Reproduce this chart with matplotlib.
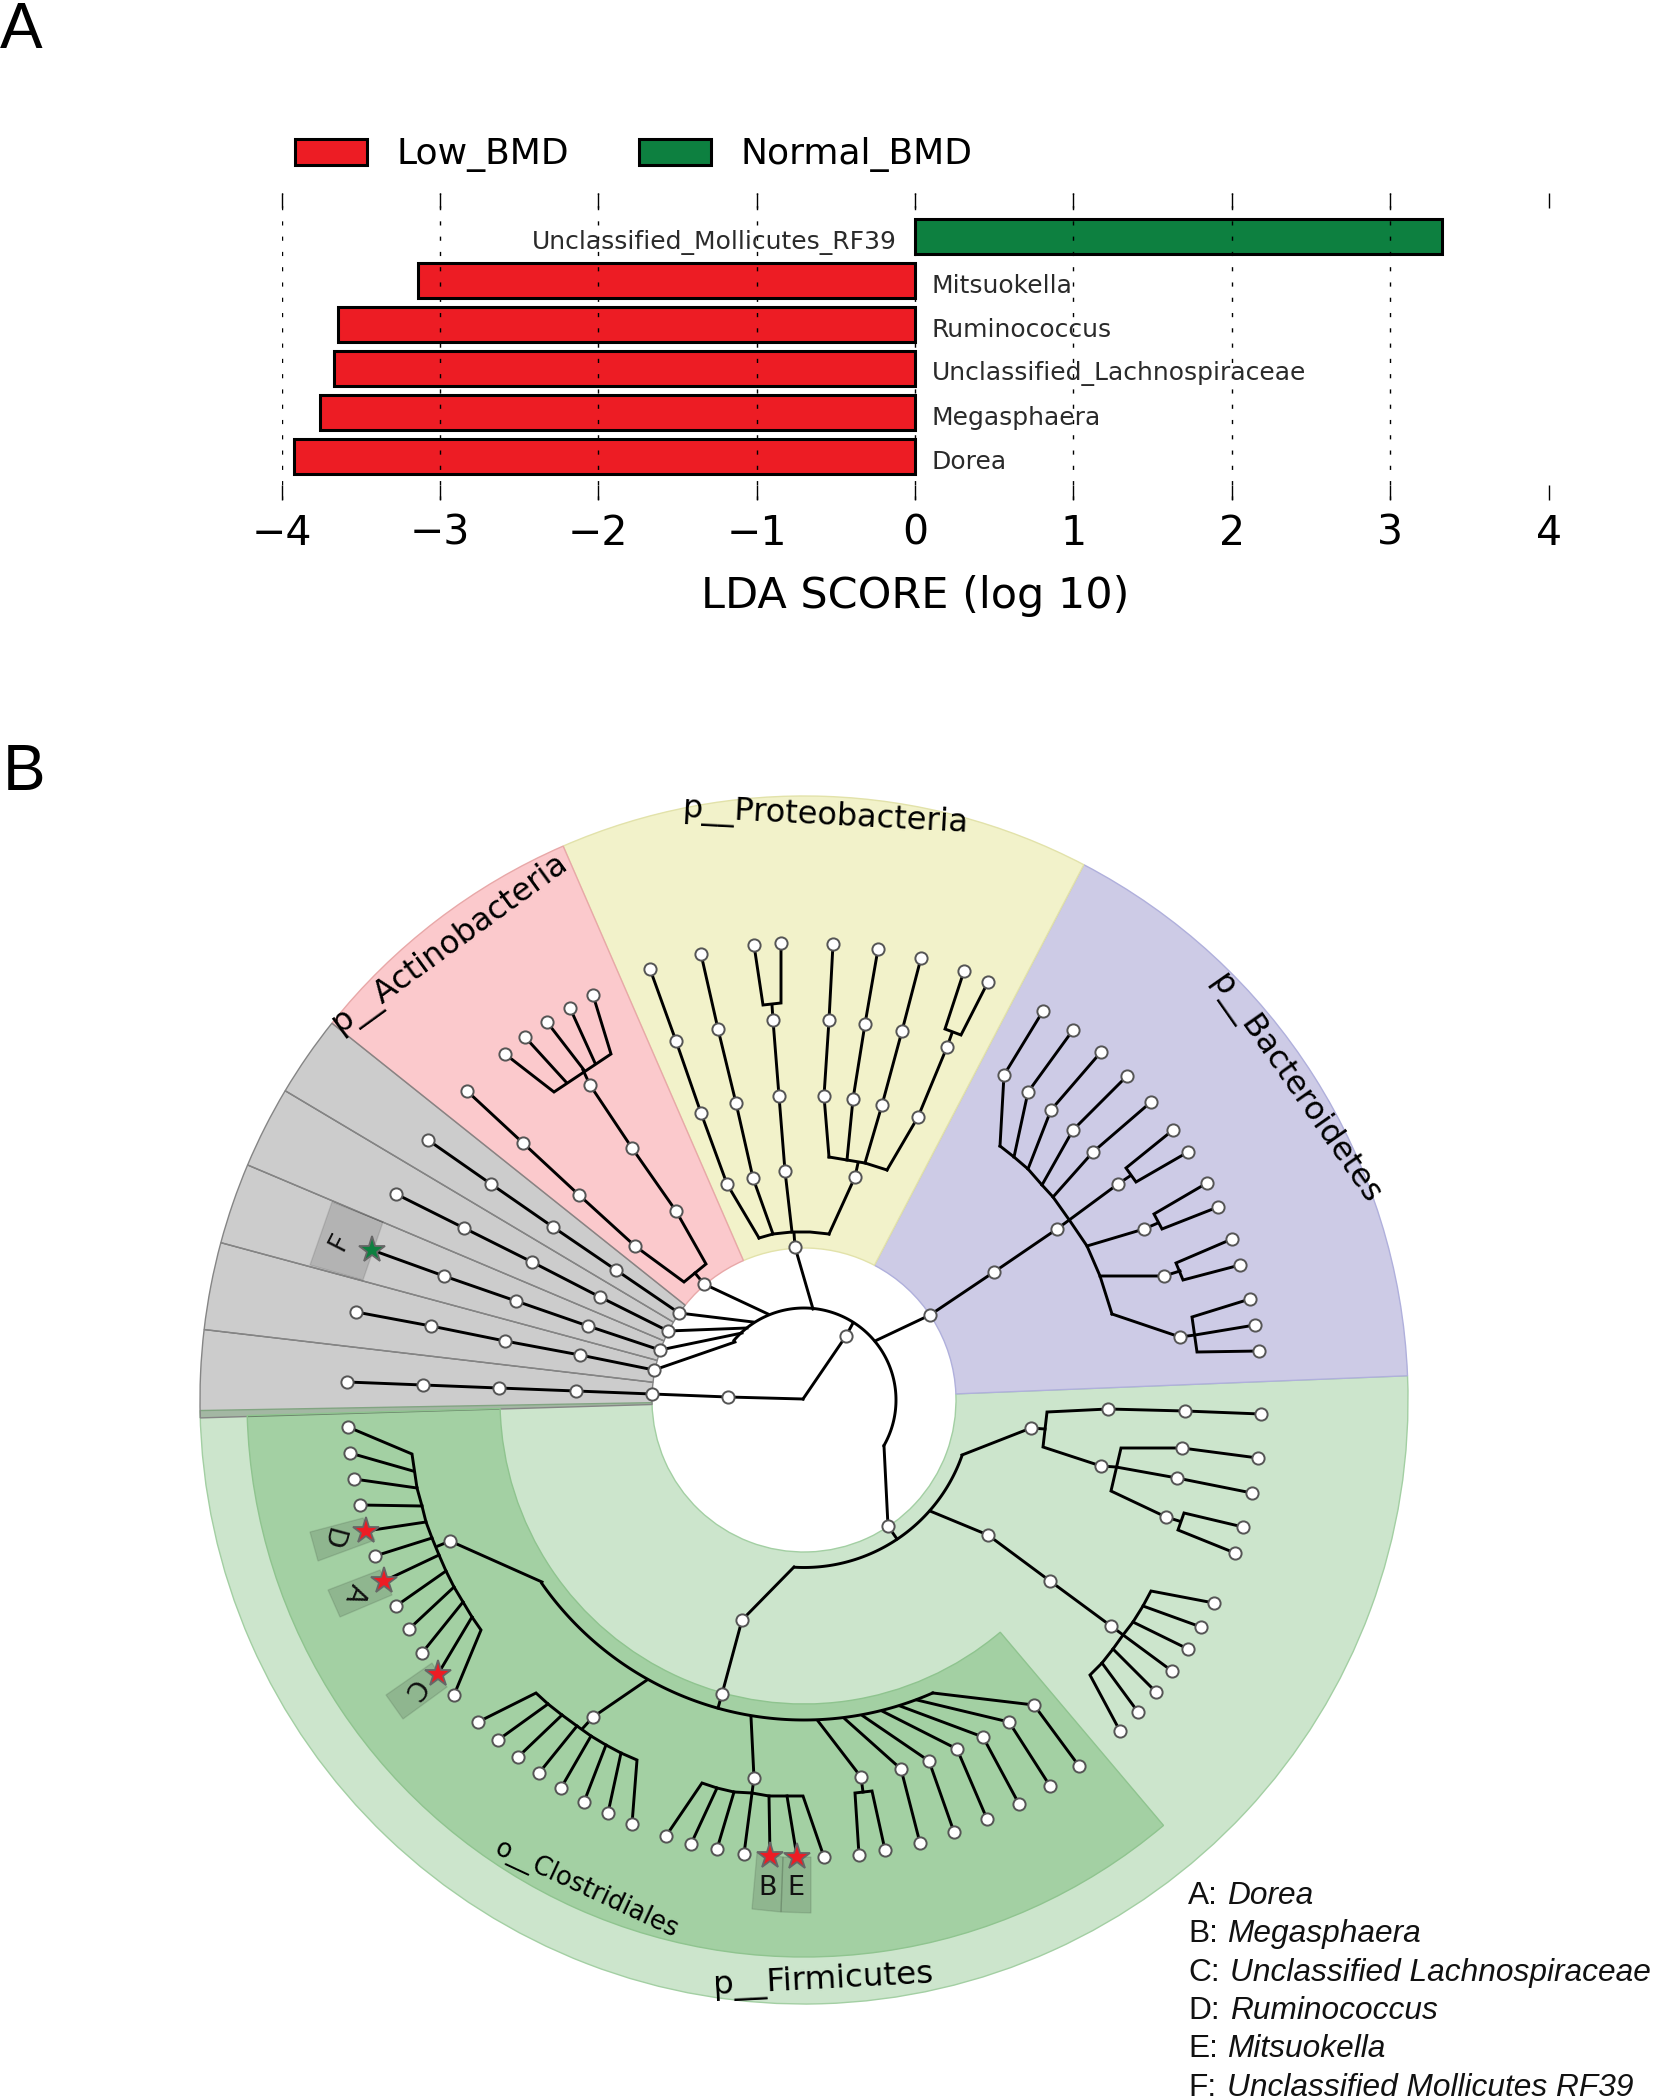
import numpy as np
import matplotlib
matplotlib.use('Agg')
import matplotlib.pyplot as plt
from matplotlib.patches import Wedge, Polygon, Patch

# Panel A: LDA scores
taxa = ['Dorea', 'Megasphaera', 'Unclassified_Lachnospiraceae', 'Ruminococcus',
        'Mitsuokella', 'Unclassified_Mollicutes_RF39']
lda_scores = [-3.92, -3.76, -3.67, -3.645, -3.14, 3.33]
group_names = ['Low_BMD', 'Normal_BMD']
group_colors = ['#ed1c24', '#0d8040']
x_ticks = [-4, -3, -2, -1, 0, 1, 2, 3, 4]

# Panel B: cladogram
center = (804, 1400)
outer_radius = 604
inner_radius = 152

# (start angle, end angle, colour, alpha, edge colour)
phylum_sectors = [
    (181.0, 362.3, '#008000', 0.2, '#a3cfa3'),
    (2.3, 62.4, '#cdcbe6', 1.0, '#b0b0dc'),
    (62.4, 113.5, '#f2f2ca', 1.0, '#e2e2aa'),
    (113.5, 141.4, '#fbc9cc', 1.0, '#e8a8a8'),
    (141.4, 149.2, '#000000', 0.2, '#858585'),
    (149.2, 157.1, '#000000', 0.2, '#858585'),
    (157.1, 164.9, '#000000', 0.2, '#858585'),
    (164.9, 173.3, '#000000', 0.2, '#858585'),
    (173.3, 181.7, '#000000', 0.2, '#858585'),
]
order_sector = (181.6, 310.2, 304, 557)

# (radius, start angle, end angle)
tree_arcs = [(92, -30, 140), (167.5, -19.2, -93.4), (320, 214.8, 293.8)]

grey_lines = [
    [(428, 1140), (491, 1184), (553, 1227), (616, 1270), (679, 1313), (753, 1322)],
    [(396, 1194), (464, 1228), (532, 1262), (600, 1297), (668, 1331), (747, 1328)],
    [(372, 1250), (444, 1276), (516, 1301), (588, 1326), (660, 1350), (742, 1333)],
    [(356, 1312), (431, 1326), (505, 1341), (580, 1355), (654, 1370), (735, 1342)],
    [(347, 1382), (423, 1385), (499, 1388), (576, 1391), (652, 1394), (728, 1397), (803, 1399)],
]
grey_nodes = [(428, 1140), (491, 1184), (553, 1227), (616, 1270), (679, 1313),
              (396, 1194), (464, 1228), (532, 1262), (600, 1297), (668, 1331),
              (444, 1276), (516, 1301), (588, 1326), (660, 1350),
              (356, 1312), (431, 1326), (505, 1341), (580, 1355), (654, 1370),
              (347, 1382), (423, 1385), (499, 1388), (576, 1391), (652, 1394), (728, 1397)]

actino_lines = [
    [(768, 1314), (704, 1284), (695, 1273)],
    [(467, 1091), (523, 1143), (579, 1195), (635, 1246), (684, 1282), (706, 1264), (676, 1211),
     (632, 1148), (590, 1085), (583, 1070)],
    [(505, 1054), (554, 1092), (611, 1054), (593, 995)],
    [(525, 1037), (566, 1082)],
    [(547, 1022), (584, 1070)],
    [(570, 1008), (595, 1063)],
]
actino_nodes = [(704, 1284), (467, 1091), (523, 1143), (579, 1195), (635, 1246), (676, 1211),
                (632, 1148), (590, 1085), (505, 1054), (525, 1037), (547, 1022), (570, 1008),
                (593, 995)]

proteo_lines = [
    [(813, 1309), (795, 1247), (794, 1233)],
    [(759, 1238), (773, 1234), (792, 1232), (810, 1232), (829, 1234)],
    [(759, 1238), (727, 1184), (701, 1113), (676, 1041), (650, 969)],
    [(773, 1234), (753, 1178), (736, 1103), (718, 1029), (701, 954)],
    [(792, 1232), (785, 1171), (779, 1096), (773, 1020), (772, 1005)],
    [(754, 945), (763, 1005), (781, 1003), (781, 943)],
    [(829, 1234), (855, 1177), (858, 1163)],
    [(829, 1157), (847, 1160), (865, 1163), (887, 1170)],
    [(829, 1157), (824, 1096), (829, 1020), (833, 944)],
    [(847, 1160), (853, 1099), (865, 1024), (878, 949)],
    [(865, 1163), (882, 1105), (902, 1031), (921, 958)],
    [(887, 1170), (918, 1117), (947, 1047), (952, 1033)],
    [(964, 971), (945, 1029), (961, 1035), (988, 982)],
]
proteo_nodes = [(795, 1247), (727, 1184), (701, 1113), (676, 1041), (650, 969),
                (753, 1178), (736, 1103), (718, 1029), (701, 954),
                (785, 1171), (779, 1096), (773, 1020), (754, 945), (781, 943),
                (855, 1177), (824, 1096), (829, 1020), (833, 944),
                (853, 1099), (865, 1024), (878, 949),
                (882, 1105), (902, 1031), (921, 958),
                (918, 1117), (947, 1047), (964, 971), (988, 982)]

bactero_lines = [
    [(875, 1341), (930, 1315), (994, 1272), (1057, 1229), (1118, 1184), (1130, 1176)],
    [(1173, 1130), (1126, 1168), (1136, 1182), (1188, 1152)],
    [(1000, 1146), (1014, 1157), (1028, 1169), (1042, 1185), (1053, 1197), (1070, 1221),
     (1087, 1246), (1100, 1276), (1112, 1314)],
    [(1000, 1146), (1004, 1075), (1043, 1011)],
    [(1014, 1157), (1028, 1092), (1073, 1030)],
    [(1028, 1169), (1051, 1110), (1101, 1052)],
    [(1042, 1185), (1073, 1130), (1127, 1076)],
    [(1053, 1197), (1093, 1152), (1151, 1102)],
    [(1087, 1246), (1144, 1229), (1158, 1223)],
    [(1207, 1183), (1154, 1214), (1162, 1229), (1218, 1207)],
    [(1100, 1276), (1164, 1276), (1180, 1271)],
    [(1232, 1239), (1176, 1263), (1183, 1280), (1240, 1265)],
    [(1112, 1314), (1180, 1337), (1195, 1335), (1255, 1325)],
    [(1250, 1299), (1192, 1317), (1197, 1352), (1259, 1351)],
]
bactero_nodes = [(930, 1315), (994, 1272), (1057, 1229), (1118, 1184), (1173, 1130), (1188, 1152),
                 (1004, 1075), (1043, 1011), (1028, 1092), (1073, 1030), (1051, 1110), (1101, 1052),
                 (1073, 1130), (1127, 1076), (1093, 1152), (1151, 1102), (1144, 1229), (1207, 1183),
                 (1218, 1207), (1164, 1276), (1232, 1239), (1240, 1265), (1180, 1337), (1250, 1299),
                 (1255, 1325), (1259, 1351)]

firm_lines = [
    [(846, 1336), (803, 1399)],
    [(846, 1336), (853, 1323)],
    [(884, 1446), (888, 1526), (897, 1539)],
    # upper right clades
    [(962, 1455), (1031, 1428), (1045, 1429)],
    [(1261, 1414), (1185, 1411), (1108, 1409), (1047, 1412), (1043, 1447), (1101, 1466), (1116, 1467),
     (1177, 1478), (1252, 1493)],
    [(1258, 1458), (1182, 1448), (1121, 1448), (1111, 1491), (1166, 1517), (1179, 1521)],
    [(1243, 1527), (1184, 1513), (1178, 1530), (1235, 1553)],
    [(930, 1511), (988, 1535), (1050, 1581), (1111, 1626), (1172, 1671)],
    [(1214, 1603), (1151, 1591), (1143, 1606), (1133, 1622), (1123, 1635), (1113, 1649),
     (1102, 1663), (1090, 1675), (1120, 1731)],
    [(1143, 1606), (1201, 1627)],
    [(1133, 1622), (1188, 1649)],
    [(1113, 1649), (1156, 1692)],
    [(1102, 1663), (1138, 1712)],
    # stem down to o__Clostridiales
    [(794, 1567), (742, 1620), (722, 1694), (718, 1708)],
]
firm_nodes = [(888, 1526), (1031, 1428), (1108, 1409), (1185, 1411), (1261, 1414), (1101, 1466),
              (1182, 1448), (1258, 1458), (1177, 1478), (1252, 1493), (1166, 1517), (1243, 1527),
              (1235, 1553), (846, 1336), (988, 1535), (1050, 1581), (1111, 1626), (1172, 1671),
              (1214, 1603), (1201, 1627), (1188, 1649), (1156, 1692), (1138, 1712), (1120, 1731),
              (742, 1620), (722, 1694)]

clost_lines = [
    [(542, 1582), (450, 1541), (438, 1546)],
    [(348, 1427), (412, 1454), (417, 1488), (422, 1506), (426, 1522), (432, 1538), (439, 1555),
     (446, 1571), (454, 1587), (463, 1602), (472, 1617), (481, 1630), (454, 1695)],
    [(350, 1453), (413, 1471)],
    [(354, 1479), (417, 1488)],
    [(360, 1505), (422, 1506)],
    [(366, 1531), (426, 1522)],
    [(375, 1556), (432, 1538)],
    [(384, 1581), (439, 1555)],
    [(396, 1606), (446, 1571)],
    [(409, 1629), (454, 1587)],
    [(422, 1653), (463, 1602)],
    [(438, 1674), (472, 1617)],
    [(647, 1680), (593, 1717), (583, 1728)],
    [(478, 1722), (536, 1693), (548, 1704), (562, 1715), (577, 1726), (591, 1736), (606, 1745),
     (621, 1753), (637, 1760), (632, 1824)],
    [(498, 1740), (548, 1704)],
    [(518, 1757), (562, 1715)],
    [(539, 1773), (577, 1726)],
    [(561, 1788), (591, 1736)],
    [(584, 1802), (606, 1745)],
    [(608, 1813), (621, 1753)],
    [(751, 1717), (754, 1778), (752, 1793)],
    [(666, 1836), (702, 1783), (717, 1788), (734, 1792), (752, 1793), (769, 1796), (787, 1796),
     (803, 1796), (824, 1857)],
    [(691, 1844), (717, 1788)],
    [(717, 1849), (734, 1792)],
    [(744, 1854), (752, 1793)],
    [(770, 1856), (769, 1796)],
    [(797, 1857), (787, 1796)],
    [(818, 1721), (861, 1777), (863, 1792)],
    [(859, 1855), (855, 1793), (872, 1791), (885, 1850)],
    [(845, 1719), (901, 1769), (920, 1843)],
    [(863, 1716), (929, 1761), (954, 1832)],
    [(882, 1711), (957, 1749), (987, 1819)],
    [(900, 1706), (983, 1737), (1019, 1804)],
    [(917, 1700), (1009, 1722), (1050, 1786)],
    [(933, 1693), (1034, 1705), (1079, 1766)],
]
clost_nodes = [(450, 1541), (348, 1427), (350, 1453), (354, 1479), (360, 1505), (375, 1556),
               (396, 1606), (409, 1629), (422, 1653), (454, 1695), (593, 1717), (478, 1722),
               (498, 1740), (518, 1757), (539, 1773), (561, 1788), (584, 1802), (608, 1813),
               (632, 1824), (754, 1778), (666, 1836), (691, 1844), (717, 1849), (744, 1854),
               (824, 1857), (861, 1777), (859, 1855), (885, 1850), (901, 1769), (920, 1843),
               (929, 1761), (954, 1832), (957, 1749), (987, 1819), (983, 1737), (1019, 1804),
               (1009, 1722), (1050, 1786), (1034, 1705), (1079, 1766)]

# biomarker name, star position, star colour, shaded box, letter position, letter rotation
biomarkers = [
    ('A', (384, 1581), '#ed1c24', [(328, 1590), (380, 1570), (392, 1595), (340, 1617)], (355, 1593), -112),
    ('B', (770, 1856), '#ed1c24', [(757, 1853), (783, 1857), (781, 1912), (752, 1909)], (768, 1888), 0),
    ('C', (438, 1674), '#ed1c24', [(386, 1695), (432, 1663), (447, 1687), (403, 1719)], (413, 1689), -125),
    ('D', (366, 1531), '#ed1c24', [(310, 1532), (363, 1518), (375, 1540), (318, 1561)], (331, 1538), -105),
    ('E', (797, 1857), '#ed1c24', [(783, 1857), (811, 1857), (811, 1913), (781, 1912)], (796, 1888), 0),
    ('F', (372, 1250), '#0d8040', [(332, 1202), (383, 1222), (363, 1280), (310, 1265)], (340, 1242), 63),
]

# name, position, rotation, font size
clade_labels = [
    ('p__Proteobacteria', (825, 817), -3, 23),
    ('p__Actinobacteria', (450, 944), 36, 23),
    ('p__Bacteroidetes', (1295, 1089), -55, 23),
    ('p__Firmicutes', (823, 1980), 3, 23.4),
    ('o__Clostridiales', (587, 1889), -25, 18.5),
]

key_letters = ['A:', 'B:', 'C:', 'D:', 'E:', 'F:']
key_names = ['Dorea', 'Megasphaera', 'Unclassified Lachnospiraceae', 'Ruminococcus',
             'Mitsuokella', 'Unclassified Mollicutes RF39']
key_y = [1896, 1934, 1973, 2011, 2049, 2088]
key_x = [1227, 1227, 1230, 1230, 1227, 1227]

fig = plt.figure(figsize=(16.54, 21), dpi=100)

# ---- panel B ----
ax_b = fig.add_axes([0, 0, 1, 1])
ax_b.set_xlim(0, 1654)
ax_b.set_ylim(2100, 0)
ax_b.axis('off')

for start, end, color, alpha, edge in phylum_sectors:
    # the y axis is flipped, so the angles go the other way round
    ax_b.add_patch(Wedge(center, outer_radius, -end, -start, width=outer_radius - inner_radius,
                         facecolor=matplotlib.colors.to_rgba(color, alpha), edgecolor=edge, lw=1))

start, end, r_in, r_out = order_sector
ax_b.add_patch(Wedge(center, r_out, -end, -start, width=r_out - r_in,
                     facecolor=matplotlib.colors.to_rgba('#008000', 0.2), edgecolor='#8fc48f', lw=1))

for name, star, color, box, letter_pos, rot in biomarkers:
    ax_b.add_patch(Polygon(box, closed=True, facecolor=(0, 0, 0, 0.12), edgecolor=(0, 0, 0, 0.1), lw=1, zorder=2))
    ax_b.text(letter_pos[0], letter_pos[1], name, fontsize=19.5, rotation=rot, ha='center', va='center',
              rotation_mode='anchor', color='#111111', zorder=6)

for radius, a1, a2 in tree_arcs:
    angles = np.radians(np.linspace(a1, a2, 120))
    ax_b.plot(center[0] + radius * np.cos(angles), center[1] - radius * np.sin(angles),
              color='black', lw=2.1, zorder=3, solid_capstyle='round')

all_lines = grey_lines + actino_lines + proteo_lines + bactero_lines + firm_lines + clost_lines
all_nodes = grey_nodes + actino_nodes + proteo_nodes + bactero_nodes + firm_nodes + clost_nodes
for chain in all_lines:
    xs, ys = zip(*chain)
    ax_b.plot(xs, ys, color='black', lw=2.1, zorder=3, solid_joinstyle='miter')

node_x, node_y = zip(*all_nodes)
ax_b.plot(node_x, node_y, 'o', ms=8.8, mfc='white', mec='#555555', mew=1.4, ls='none', zorder=4)

for name, star, color, box, letter_pos, rot in biomarkers:
    ax_b.plot(star[0], star[1], '*', ms=20, mfc=color, mec='#666666', mew=1.3, zorder=5)

for text, pos, rot, size in clade_labels:
    ax_b.text(pos[0], pos[1], text, rotation=rot, fontsize=size, ha='center', va='center',
              rotation_mode='anchor', color='black', zorder=6)

for letter, name, y, x in zip(key_letters, key_names, key_y, key_x):
    ax_b.text(1188, y, letter, family='Liberation Sans', fontsize=22.8, va='center', color='#111111')
    ax_b.text(x, y, name, family='Liberation Sans', style='italic', fontsize=22.8, va='center', color='#111111')

ax_b.text(0, 48, 'A', family='Liberation Sans', fontsize=46, va='baseline', color='black')
ax_b.text(3, 790, 'B', family='Liberation Sans', fontsize=46, va='baseline', color='black')

# ---- panel A ----
ax_a = fig.add_axes([281.6 / 1654, 1 - 500 / 2100, 1267 / 1654, 307 / 2100])
ax_a.patch.set_alpha(0)
y_pos = np.arange(len(taxa))
bar_colors = [group_colors[0] if v < 0 else group_colors[1] for v in lda_scores]
ax_a.barh(y_pos, lda_scores, height=0.8, color=bar_colors, edgecolor='black', lw=2.2, zorder=1)
ax_a.set_xlim(-4, 4)
ax_a.set_ylim(-1, len(taxa))
ax_a.set_yticks([])
ax_a.set_xticks(x_ticks)
ax_a.tick_params(axis='x', direction='in', top=True, length=11, width=1, labelsize=29.5, pad=10)
ax_a.xaxis.grid(True, color='black', lw=1, ls=(0, (3, 8)), zorder=2)
ax_a.get_xgridlines()[-1].set_visible(False)
ax_a.set_axisbelow(False)
for spine in ax_a.spines.values():
    spine.set_visible(False)
ax_a.set_xlabel('LDA SCORE (log 10)', fontsize=31, labelpad=15)

for i, (name, score) in enumerate(zip(taxa, lda_scores)):
    if score < 0:
        ax_a.text(0.105, i - 0.125, name, fontsize=18, ha='left', va='center', color='#2a2a2a', zorder=3)
    else:
        ax_a.text(-0.115, i - 0.125, name, fontsize=18, ha='right', va='center', color='#2a2a2a', zorder=3)

handles = [Patch(facecolor=c, edgecolor='black', lw=2.2, label=n) for c, n in zip(group_colors, group_names)]
fig.legend(handles=handles, ncol=2, frameon=False, fontsize=26, loc='center left',
           bbox_to_anchor=(295 / 1654, 1 - 155 / 2100), handlelength=2.0, handleheight=0.75,
           handletextpad=0.8, columnspacing=1.95, borderpad=0, borderaxespad=0)

fig.savefig('out.png', dpi=100)
